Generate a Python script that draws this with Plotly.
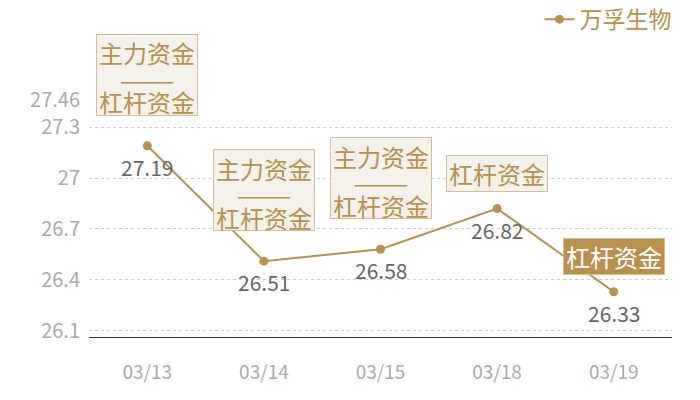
import plotly.graph_objects as go

dates = ["03/13", "03/14", "03/15", "03/18", "03/19"]
prices = [27.19, 26.51, 26.58, 26.82, 26.33]
# tags shown above each point: top line, bottom line (None = single line)
tag_top = ["主力资金", "主力资金", "主力资金", None, None]
tag_bottom = ["杠杆资金", "杠杆资金", "杠杆资金", "杠杆资金", "杠杆资金"]
tag_filled = [False, False, False, False, True]
y_ticks = [26.1, 26.4, 26.7, 27, 27.3, 27.46]
y_tick_labels = ["26.1", "26.4", "26.7", "27", "27.3", "27.46"]
series_name = "万孚生物"

GOLD = "#b8914f"
BORDER = "#d6bd93"
PALE = "#f4f0ea"
FONT = "Noto Sans CJK SC"

fig = go.Figure()
fig.add_trace(go.Scatter(
    x=dates, y=prices, name=series_name,
    mode="lines+markers",
    line=dict(color=GOLD, width=2),
    marker=dict(color=GOLD, size=9),
    cliponaxis=False,
))

for d, v in zip(dates, prices):
    fig.add_annotation(
        x=d, y=v, xref="x", yref="y", text=f"{v:.2f}", showarrow=False,
        yanchor="middle", yshift=-21,
        font=dict(family=FONT, size=21, color="#666666"),
    )

for d, v, top, bottom, filled in zip(dates, prices, tag_top, tag_bottom, tag_filled):
    two = top is not None
    box_h = 80 if two else 35
    fig.add_annotation(
        x=d, y=v, xref="x", yref="y", text=" ", showarrow=False,
        width=100, height=box_h, yanchor="bottom", yshift=30 if two else 17,
        bgcolor=GOLD if filled else PALE, bordercolor=BORDER,
        borderwidth=1, borderpad=0, font=dict(size=2),
    )
    txt_color = "white" if filled else GOLD
    if two:
        parts = [(top, 93, 24), ("———", 67, 22), (bottom, 44, 24)]
    else:
        parts = [(bottom, 35, 24)]
    for t, shift, size in parts:
        fig.add_annotation(
            x=d, y=v, xref="x", yref="y", text=t, showarrow=False,
            yanchor="middle", yshift=shift,
            font=dict(family=FONT, size=size, color=txt_color),
        )

# page body adds an 8px offset, so margins are trimmed by that amount
fig.update_layout(
    width=700, height=400,
    margin=dict(l=81, r=36, t=92, b=71, autoexpand=False),
    paper_bgcolor="white", plot_bgcolor="white",
    showlegend=True,
    legend=dict(
        orientation="h", xref="container", yref="container",
        x=0.955, xanchor="right", y=0.972, yanchor="middle",
        font=dict(family=FONT, size=23, color=GOLD),
        bgcolor="rgba(0,0,0,0)",
    ),
    font=dict(family=FONT),
)
fig.update_xaxes(
    type="category", range=[-0.5, 4.5],
    showline=True, linecolor="#333333", linewidth=1,
    showgrid=False, ticks="", ticklabelstandoff=18,
    tickfont=dict(family=FONT, size=19, color="#aaaaaa"),
)
fig.update_yaxes(
    range=[26.063, 27.46], tickvals=y_ticks, ticktext=y_tick_labels,
    showgrid=True, gridcolor="#cccccc", griddash="dot", gridwidth=1,
    zeroline=False, showline=False, ticks="", ticklabelstandoff=8,
    tickfont=dict(family=FONT, size=20, color="#aaaaaa"),
)

fig.write_html("out.html")
